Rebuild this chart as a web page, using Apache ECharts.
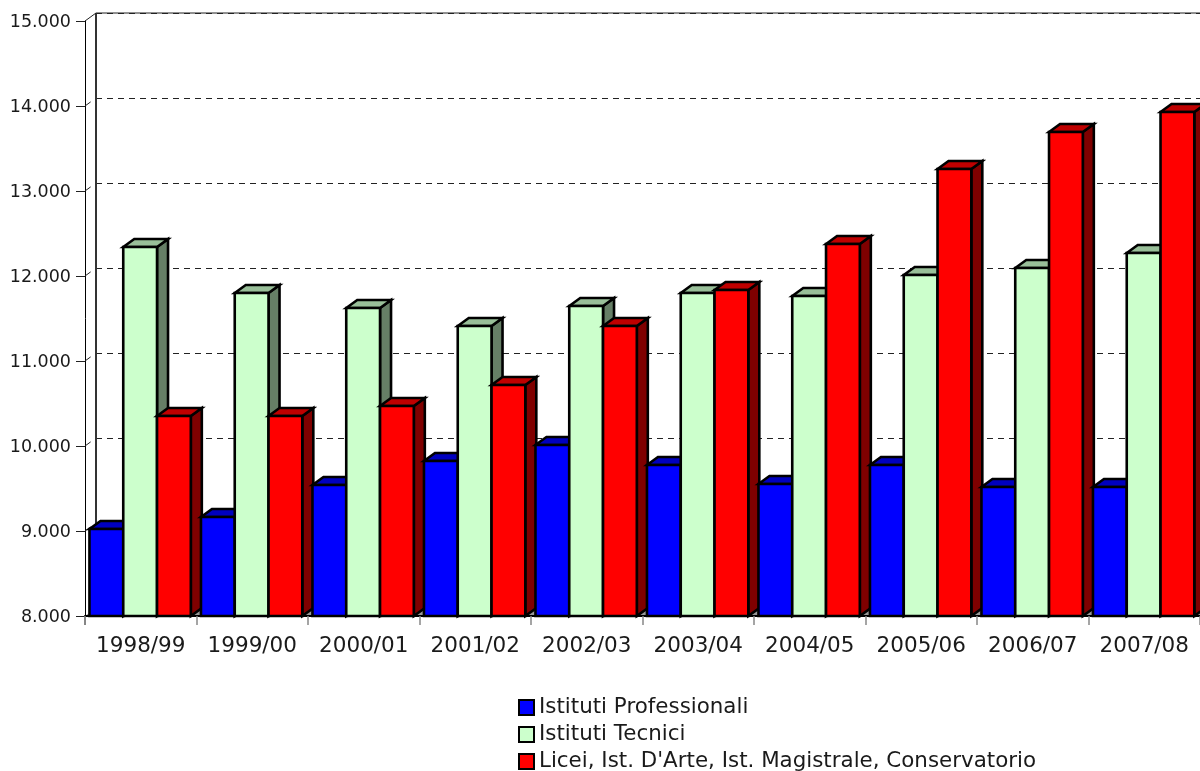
<!DOCTYPE html>
<html><head><meta charset="utf-8">
<style>html,body{margin:0;padding:0;background:#fff}#c{width:1200px;height:771px}</style>
<script src="https://cdn.jsdelivr.net/npm/echarts@6/dist/echarts.min.js"></script>
</head><body><div id="c"></div>
<script>
const categories = ['1998/99','1999/00','2000/01','2001/02','2002/03','2003/04','2004/05','2005/06','2006/07','2007/08'];
const professionali = [9024,9165,9541,9824,10012,9776,9553,9776,9518,9518];
const tecnici = [12341,11800,11624,11412,11647,11800,11765,12012,12094,12271];
const licei = [10353,10353,10471,10718,11412,11835,12376,13259,13694,13929];
const seriesNames = ['Istituti Professionali','Istituti Tecnici',"Licei, Ist. D'Arte, Ist. Magistrale, Conservatorio"];
const yMin = 8000, yMax = 15000, yStep = 1000;
const FONT = '"DejaVu Sans"';
const DX = 11, DY = -8;

const chart = echarts.init(document.getElementById('c'), null, {renderer:'canvas'});
const fmt = v => String(v).replace(/\B(?=(\d{3})+$)/g,'.');

function barSeries(name, data, idx, front, top, side){
  return {
    type:'custom', name, xAxisIndex:0, yAxisIndex:0,
    data:data.map((v,i)=>[i,v]),
    itemStyle:{color:front,borderColor:'#000',borderWidth:2},
    clip:false,
    renderItem(params, api){
      const i = api.value(0), v = api.value(1);
      const band = api.size([1,0])[0];
      const w = band*0.303;
      const p = api.coord([i,v]), b = api.coord([i,yMin]);
      const x0 = p[0]-band/2+band*0.04+idx*w, x1 = x0+w, yt = p[1], yb = b[1];
      const z = i*10+idx;
      const st = {stroke:'#000',lineWidth:2.6,lineJoin:'miter'};
      return {type:'group',children:[
        {type:'polygon',z2:z,shape:{points:[[x1,yt],[x1+DX,yt+DY],[x1+DX,yb+DY],[x1,yb]]},style:{...st,fill:side}},
        {type:'polygon',z2:z,shape:{points:[[x0,yt],[x0+DX,yt+DY],[x1+DX,yt+DY],[x1,yt]]},style:{...st,fill:top}},
        {type:'rect',z2:z+1,shape:{x:x0,y:yt,width:w,height:yb-yt},style:{...st,fill:front}}
      ]};
    }
  };
}

function wallItem(params, api){
  const c = params.coordSys;
  const L = c.x, R = c.x+c.width, B = c.y+c.height, T = c.y;
  const kids = [
    {type:'polygon',shape:{points:[[L,B],[L+DX,B+DY],[R+DX,B+DY],[R,B]]},style:{fill:'#999',stroke:'none'}},
    {type:'line',shape:{x1:L+DX,y1:T+DY,x2:L+DX,y2:B+DY},style:{stroke:'#333',lineWidth:2}},
    {type:'line',shape:{x1:L+DX,y1:T+DY,x2:R+DX,y2:T+DY},style:{stroke:'#222',lineWidth:1}},
    {type:'line',shape:{x1:L,y1:T,x2:L+DX,y2:T+DY},style:{stroke:'#222',lineWidth:1}},
    {type:'line',shape:{x1:L,y1:B,x2:L,y2:B+9},style:{stroke:'#000',lineWidth:1}}
  ];
  for(let v=yMin+yStep;v<yMax;v+=yStep){
    const y = api.coord([0,v])[1];
    kids.push({type:'line',shape:{x1:L,y1:y,x2:L+DX,y2:y+DY},style:{stroke:'#222',lineWidth:1,lineDash:[7,7]}});
  }
  return {type:'group',children:kids};
}

const legendTops = [697,724,751];

chart.setOption({
  animation:false,
  backgroundColor:'#fff',
  textStyle:{fontFamily:FONT},
  grid:[
    {left:85,top:21,width:1116,height:595},
    {left:96,top:13,width:1116,height:595}
  ],
  xAxis:[
    {type:'category',gridIndex:0,data:categories,
     axisLine:{lineStyle:{color:'#000',width:2}},
     axisTick:{show:true,alignWithLabel:false,length:9,lineStyle:{color:'#888',width:1.5}},
     axisLabel:{fontFamily:FONT,fontSize:21.5,color:'#1a1a1a',margin:19,interval:0},
     splitLine:{show:false},z:5},
    {type:'category',gridIndex:1,data:categories,show:false}
  ],
  yAxis:[
    {type:'value',gridIndex:0,min:yMin,max:yMax,interval:yStep,
     axisLine:{show:true,lineStyle:{color:'#000',width:1}},
     axisTick:{show:true,length:9,lineStyle:{color:'#222',width:1}},
     axisLabel:{fontFamily:FONT,fontSize:17.5,color:'#1a1a1a',margin:14,verticalAlign:'top',lineHeight:3,formatter:fmt},
     splitLine:{show:false}},
    {type:'value',gridIndex:1,min:yMin,max:yMax,interval:yStep,
     axisLine:{show:false},axisTick:{show:false},axisLabel:{show:false},
     splitLine:{show:true,lineStyle:{color:'#222',width:1,type:[6,5]}}}
  ],
  legend:seriesNames.map((n,k)=>({
    orient:'vertical',left:518,top:legendTops[k],itemWidth:15,itemHeight:15,
    data:[{name:n,icon:'rect'}],
    textStyle:{fontFamily:FONT,fontSize:21.4,color:'#1a1a1a',padding:[4,0,0,0]},
    selectedMode:false,padding:0
  })),
  series:[
    {type:'custom',name:'wall',xAxisIndex:0,yAxisIndex:0,data:[[0,yMin]],renderItem:wallItem,clip:false,silent:true,z:1},
    barSeries(seriesNames[0],professionali,0,'#0000ff','#0000bf','#00007f'),
    barSeries(seriesNames[1],tecnici,1,'#ccffcc','#99bf99','#667f66'),
    barSeries(seriesNames[2],licei,2,'#ff0000','#bf0000','#7f0000')
  ]
});
</script></body></html>
